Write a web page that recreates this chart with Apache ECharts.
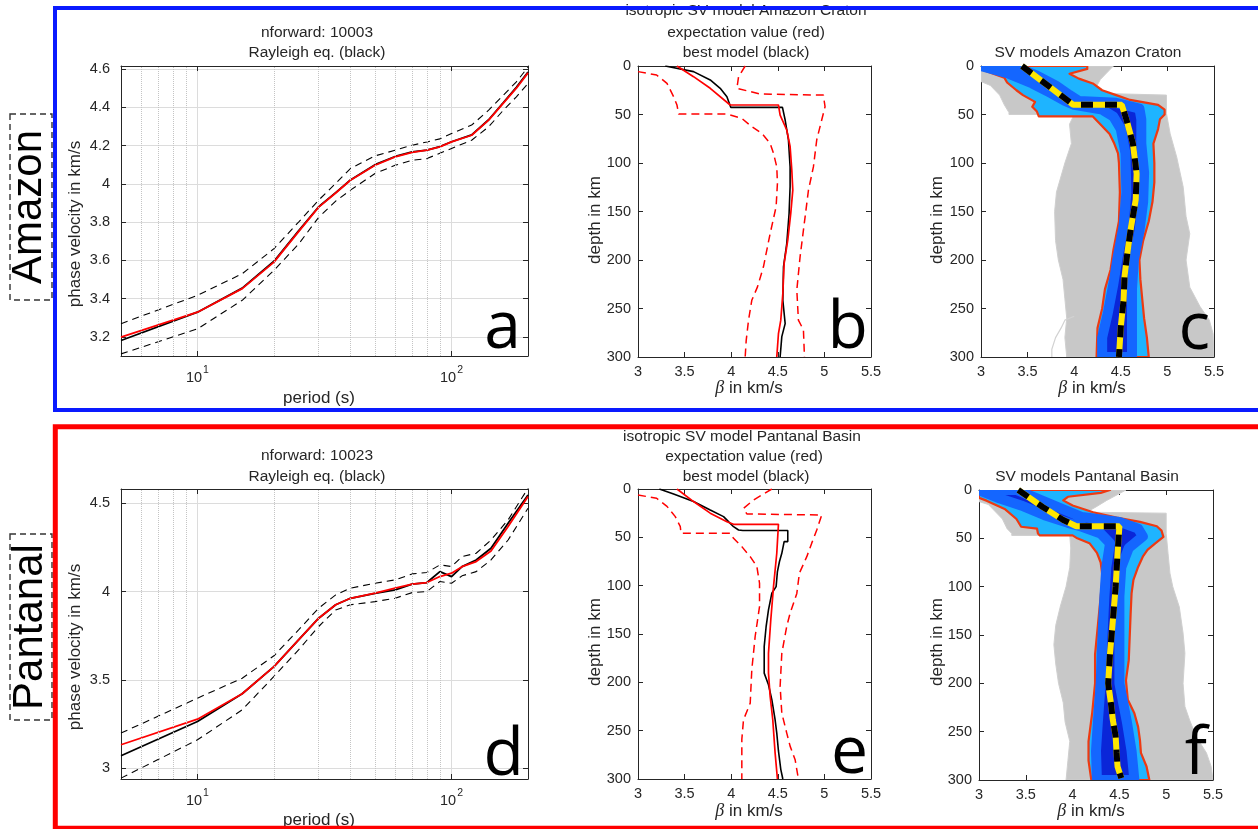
<!DOCTYPE html>
<html>
<head>
<meta charset="utf-8">
<title>SV models Amazon Craton / Pantanal Basin</title>
<script src="https://cdn.jsdelivr.net/npm/echarts@6/dist/echarts.min.js"></script>
<style>
  html, body { margin: 0; padding: 0; background: #fff; }
  #chart { width: 1258px; height: 829px; }
</style>
</head>
<body>
<div id="chart"></div>
<script>
// ---------- Rayleigh phase-velocity dispersion (period s, velocity km/s) ----------
const periodsA = [5, 10, 15, 20, 25, 30, 35, 40, 50, 60, 70, 80, 90, 100, 120, 140, 160, 180, 200];
const aExpect = [3.199, 3.329, 3.452, 3.591, 3.750, 3.878, 3.952, 4.019, 4.097, 4.141, 4.164, 4.176, 4.193, 4.219, 4.254, 4.333, 4.422, 4.500, 4.580];
const aBest   = [3.181, 3.329, 3.455, 3.595, 3.754, 3.880, 3.954, 4.020, 4.100, 4.143, 4.167, 4.176, 4.195, 4.220, 4.256, 4.335, 4.425, 4.505, 4.585];
const aUpper  = [3.269, 3.417, 3.530, 3.661, 3.800, 3.915, 4.002, 4.080, 4.146, 4.176, 4.202, 4.219, 4.235, 4.263, 4.307, 4.385, 4.464, 4.533, 4.610];
const aLower  = [3.111, 3.242, 3.391, 3.548, 3.685, 3.825, 3.910, 3.967, 4.054, 4.097, 4.123, 4.132, 4.160, 4.185, 4.228, 4.298, 4.385, 4.455, 4.525];

const periodsD = [5, 10, 15, 20, 25, 30, 35, 40, 50, 60, 70, 80, 90, 100, 110, 125, 143, 167, 200];
const dExpect = [3.132, 3.277, 3.421, 3.575, 3.726, 3.849, 3.925, 3.962, 3.991, 4.019, 4.042, 4.051, 4.085, 4.104, 4.141, 4.170, 4.230, 4.368, 4.538];
const dBest   = [3.070, 3.264, 3.421, 3.575, 3.726, 3.849, 3.925, 3.962, 3.990, 4.009, 4.042, 4.051, 4.113, 4.085, 4.141, 4.179, 4.245, 4.387, 4.547];
const dUpper  = [3.198, 3.396, 3.509, 3.636, 3.783, 3.906, 3.981, 4.019, 4.047, 4.066, 4.100, 4.108, 4.151, 4.142, 4.198, 4.217, 4.292, 4.406, 4.585];
const dLower  = [2.943, 3.160, 3.330, 3.519, 3.670, 3.802, 3.896, 3.925, 3.943, 3.962, 3.994, 4.000, 4.057, 4.047, 4.089, 4.113, 4.179, 4.292, 4.472];

const minorPeriods = [6, 7, 8, 9, 20, 30, 40, 50, 60, 70, 80, 90];
const aVelTicks = [3.2, 3.4, 3.6, 3.8, 4.0, 4.2, 4.4, 4.6];
const dVelTicks = [3.0, 3.5, 4.0, 4.5];
const betaTicks = [3, 3.5, 4, 4.5, 5, 5.5];
const depthTicks = [0, 50, 100, 150, 200, 250, 300];

// ---------- Amazon Craton shear-velocity profiles [beta km/s, depth km] ----------
const bBest = [[3.293,0],[3.596,5.8],[3.775,14.4],[3.882,23],[3.954,31.7],[3.996,42.7],[4.55,42.7],[4.579,55.7],[4.614,76],[4.632,104],[4.632,124.5],[4.621,152],[4.596,183],[4.561,207],[4.554,241.5],[4.579,265.6],[4.543,279],[4.525,300]];
const bMean = [[3.418,0],[3.596,11],[3.775,23],[3.989,40.2],[4.507,40.2],[4.525,50.6],[4.596,66],[4.632,83],[4.65,107],[4.661,128],[4.639,152],[4.607,179.6],[4.568,203.6],[4.554,234.6],[4.532,262],[4.507,276],[4.489,300]];
const bLow  = [[3.0,5.8],[3.2,9.3],[3.311,17.9],[3.382,31.6],[3.418,40.2],[3.436,49.5],[3.954,49.5],[4.114,54],[4.221,62.6],[4.329,69.5],[4.418,79.8],[4.454,90],[4.489,104],[4.496,121],[4.482,145],[4.418,172.7],[4.346,207],[4.282,227.7],[4.221,241.5],[4.186,262],[4.161,282.8],[4.15,300]];
const bUp   = [[4.15,0],[4.079,11],[4.061,23],[4.311,28.9],[4.989,30],[5.007,42],[4.971,55.7],[4.918,76],[4.882,104],[4.829,128],[4.793,155.5],[4.739,196.8],[4.704,231],[4.721,262],[4.775,272],[4.786,300]];

const cGrayLeft  = [[3.0,0],[3.0,16],[3.1,20],[3.2,30],[3.25,40],[3.3,48],[3.3,50],[4.0,50],[3.95,60],[3.97,80],[3.9,100],[3.81,130],[3.79,150],[3.8,180],[3.83,200],[3.88,220],[3.9,240],[3.92,260],[3.9,280],[3.92,300]];
const cGrayRight = [[4.42,0],[4.28,14],[4.2,28],[4.99,30],[4.99,49],[5.03,70],[5.1,94],[5.17,125],[5.2,155],[5.24,173],[5.2,200],[5.24,228],[5.35,248],[5.45,262],[5.49,276],[5.5,300]];
const cOutline   = [[4.0,258],[3.9,262],[3.86,270],[3.8,280],[3.76,292],[3.76,300]];
const cBandLeft  = [[3.0,0],[3.05,5],[3.25,12],[3.28,17],[3.38,25],[3.45,30],[3.58,37],[3.55,42],[3.6,47],[3.62,52],[4.2,52],[4.28,60],[4.38,70],[4.43,80],[4.47,90],[4.48,100],[4.49,130],[4.48,160],[4.42,190],[4.39,210],[4.33,230],[4.3,250],[4.25,270],[4.24,300]];
const cBandRight = [[4.14,0],[4.14,3],[3.95,8],[4.05,13],[4.2,18],[4.3,25],[4.45,30],[4.6,35],[4.9,40],[4.97,45],[4.97,50],[4.92,55],[4.9,65],[4.85,80],[4.86,100],[4.86,120],[4.84,140],[4.8,160],[4.74,180],[4.7,200],[4.71,220],[4.73,240],[4.75,260],[4.78,280],[4.8,300]];
const cCoreLeft  = [[3.0,0],[3.3,8],[3.55,18],[3.75,28],[3.9,36],[4.0,40],[4.3,45],[4.42,52],[4.5,65],[4.55,90],[4.56,130],[4.53,165],[4.47,195],[4.42,225],[4.36,255],[4.3,280],[4.3,300]];
const cCoreRight = [[3.35,0],[3.6,10],[3.8,20],[3.95,30],[4.05,36],[4.45,38],[4.7,44],[4.72,55],[4.72,80],[4.75,110],[4.74,140],[4.7,170],[4.64,200],[4.62,230],[4.62,260],[4.62,300]];
const cMean = [[3.44,0],[3.99,40],[4.51,40],[4.56,55],[4.63,80],[4.67,111],[4.66,138],[4.61,166],[4.57,193],[4.54,217],[4.53,241],[4.5,269],[4.48,300]];

// ---------- Pantanal Basin shear-velocity profiles ----------
const eBest = [[3.229,0],[3.382,5.2],[3.596,13],[3.775,21.7],[3.918,28.6],[3.971,33.8],[4.025,39],[4.079,42.4],[4.125,43],[4.607,43],[4.607,54.4],[4.568,54.4],[4.543,66.5],[4.518,75],[4.496,85.4],[4.482,101],[4.436,107.8],[4.4,125],[4.375,142],[4.354,163],[4.354,190.5],[4.4,202.5],[4.436,218],[4.471,238.7],[4.489,252.5],[4.507,271],[4.532,290],[4.554,300]];
const eMean = [[3.418,0],[3.596,13],[3.775,25],[3.954,33.8],[4.025,36.5],[4.507,36.5],[4.489,66.5],[4.454,101],[4.425,135],[4.4,170],[4.4,190.5],[4.418,214.6],[4.446,238.7],[4.471,273],[4.496,300]];
const eLow  = [[3.0,6.2],[3.2,9.6],[3.311,18],[3.4,28.6],[3.454,39],[3.461,45.8],[3.989,45.8],[4.025,51],[4.114,59.6],[4.204,70],[4.275,80],[4.304,97.5],[4.304,121.6],[4.257,152.6],[4.221,187],[4.204,221.5],[4.132,238.7],[4.114,259],[4.114,300]];
const eUp   = [[4.436,0],[4.239,11.4],[4.132,20],[4.168,25.8],[4.971,26.9],[4.918,42.4],[4.864,56],[4.811,70],[4.732,87],[4.704,108],[4.632,128.5],[4.596,142],[4.543,170],[4.525,204],[4.543,232],[4.596,252.5],[4.632,266],[4.686,280],[4.721,300]];

const fGrayLeft  = [[3.0,0],[3.0,12],[3.1,15],[3.15,20],[3.25,30],[3.3,40],[3.35,45],[3.35,47],[3.97,47],[3.98,60],[3.97,80],[3.93,100],[3.87,120],[3.82,140],[3.8,160],[3.82,180],[3.85,200],[3.9,220],[3.92,240],[3.97,260],[3.95,280],[3.93,300]];
const fGrayRight = [[4.57,0],[4.36,11],[4.25,17.5],[4.15,23],[5.0,24],[5.0,45],[5.02,66],[5.04,86],[5.07,100],[5.14,121],[5.18,148],[5.2,169],[5.18,200],[5.2,224],[5.25,238],[5.32,255],[5.43,272],[5.48,286],[5.5,300]];
const fBandLeft  = [[3.0,0],[3.0,8],[3.08,11],[3.28,20],[3.4,30],[3.45,38],[3.62,40],[3.63,45],[3.65,47],[4.0,47],[4.05,50],[4.18,55],[4.26,65],[4.3,75],[4.32,90],[4.3,110],[4.27,140],[4.24,170],[4.24,200],[4.21,230],[4.17,260],[4.17,280],[4.2,300]];
const fBandRight = [[4.4,0],[4.3,3],[3.95,7],[3.9,10.7],[4.0,16],[4.22,23],[4.47,28.6],[4.72,33],[4.9,37.5],[4.95,42],[4.97,48.5],[4.88,55.4],[4.8,62],[4.75,69],[4.7,79.6],[4.65,93],[4.63,107],[4.62,128],[4.61,152],[4.6,176],[4.57,197],[4.59,217],[4.66,231],[4.7,245],[4.72,259],[4.73,272],[4.79,286],[4.82,300]];
const fCoreLeft  = [[3.0,0],[3.2,8],[3.45,16],[3.7,26],[3.95,34],[4.1,38],[4.3,45],[4.4,55],[4.36,80],[4.34,110],[4.32,150],[4.3,200],[4.27,240],[4.25,270],[4.26,300]];
const fCoreRight = [[3.4,0],[3.65,10],[3.9,20],[4.1,28],[4.5,33],[4.7,40],[4.75,48],[4.6,60],[4.52,80],[4.5,110],[4.5,160],[4.5,200],[4.58,240],[4.63,270],[4.66,300]];
const fMean = [[3.42,0],[3.68,17.5],[3.9,31],[4.04,37.5],[4.5,37.5],[4.48,66],[4.46,100],[4.43,135],[4.4,169],[4.38,200],[4.41,221],[4.43,238],[4.46,255],[4.47,272],[4.48,286],[4.52,298]];

// ---------- drawing ----------
const FONT = '"Liberation Sans", Arial, sans-serif';
const INK = '#262626';

const grids = [
  { left: 121, top: 66,  width: 407, height: 290 },  // a
  { left: 638, top: 66,  width: 233, height: 291 },  // b
  { left: 981, top: 66,  width: 233, height: 291 },  // c
  { left: 121, top: 489, width: 407, height: 290 },  // d
  { left: 638, top: 489, width: 233, height: 290 },  // e
  { left: 979, top: 490, width: 234, height: 290 }   // f
];

function axis(gi, pos, o) {
  const main = pos === 'bottom' || pos === 'left';
  const ax = {
    type: o.type || 'value', gridIndex: gi, position: pos,
    min: o.min, max: o.max, inverse: !!o.inverse,
    axisLine: { show: true, onZero: false, lineStyle: { color: INK, width: 1 } },
    axisTick: { show: true, inside: true, length: 5, lineStyle: { color: INK, width: 1 } },
    axisLabel: {
      show: main, margin: o.margin, color: INK, fontSize: 14.5, fontFamily: FONT,
      formatter: o.formatter, rich: o.rich
    },
    splitLine: { show: main && !!o.grid, lineStyle: { color: '#dcdcdc', width: 1 } },
    minorTick: { show: false }, minorSplitLine: { show: false }
  };
  if (o.type === 'log') ax.logBase = 10;
  if (o.ticks) {
    ax.axisTick.customValues = o.ticks;
    if (main) ax.axisLabel.customValues = o.ticks;
  }
  return ax;
}

const fmt1 = v => String(Math.round(v * 10) / 10);
const logFmt = v => {
  const e = Math.log10(v);
  if (Math.abs(e - Math.round(e)) < 1e-6 && v > 9 && v < 101) return '{b|10}{s|' + Math.round(e) + '}';
  return '';
};
const logRich = {
  b: { fontSize: 14.5, fontFamily: FONT, color: INK, lineHeight: 20, verticalAlign: 'bottom' },
  s: { fontSize: 10.5, fontFamily: FONT, color: INK, lineHeight: 20, verticalAlign: 'top', padding: [0, 0, 0, 1] }
};

const xSpecs = [
  { type: 'log', min: 5, max: 200, grid: true, formatter: logFmt, rich: logRich, margin: 9 },
  { min: 3, max: 5.5, ticks: betaTicks, formatter: fmt1, margin: 7 },
  { min: 3, max: 5.5, ticks: betaTicks, formatter: fmt1, margin: 7 },
  { type: 'log', min: 5, max: 200, grid: true, formatter: logFmt, rich: logRich, margin: 9 },
  { min: 3, max: 5.5, ticks: betaTicks, formatter: fmt1, margin: 7 },
  { min: 3, max: 5.5, ticks: betaTicks, formatter: fmt1, margin: 7 }
];
const ySpecs = [
  { min: 3.1, max: 4.616, ticks: aVelTicks, grid: true, formatter: fmt1, margin: 11 },
  { min: 0, max: 300, ticks: depthTicks, inverse: true, margin: 7 },
  { min: 0, max: 300, ticks: depthTicks, inverse: true, margin: 7 },
  { min: 2.938, max: 4.581, ticks: dVelTicks, grid: true, formatter: fmt1, margin: 11 },
  { min: 0, max: 300, ticks: depthTicks, inverse: true, margin: 7 },
  { min: 0, max: 300, ticks: depthTicks, inverse: true, margin: 7 }
];

const xAxes = [], yAxes = [];
grids.forEach((g, i) => {
  xAxes.push(axis(i, 'bottom', xSpecs[i]), axis(i, 'top', xSpecs[i]));
  yAxes.push(axis(i, 'left', ySpecs[i]), axis(i, 'right', ySpecs[i]));
});

function line(gi, data, color, width, dash, z) {
  return {
    type: 'line', xAxisIndex: 2 * gi, yAxisIndex: 2 * gi, data: data,
    showSymbol: false, symbol: 'none', silent: true, clip: true, z: z || 3,
    lineStyle: { color: color, width: width, type: dash || 'solid' }
  };
}
const pairs = (xs, ys) => xs.map((x, i) => [x, ys[i]]);
const band = (left, right) => left.concat(right.slice().reverse());

function polygon(gi, pts, style, z) {
  return {
    type: 'custom', xAxisIndex: 2 * gi, yAxisIndex: 2 * gi, clip: true, silent: true, z: z,
    data: [pts[0]],
    renderItem: (params, api) => ({
      type: 'polygon',
      shape: { points: pts.map(p => api.coord(p)) },
      style: Object.assign({}, style)
    })
  };
}

const dashBlack = [7, 5];
const dashRed = [8, 5];

const series = [];
// a: dispersion, Amazon
const minorGrid = {
  silent: true, symbol: 'none', label: { show: false },
  lineStyle: { type: 'dotted', color: '#c4c4c4', width: 1 },
  data: minorPeriods.map(v => ({ xAxis: v }))
};
series.push(Object.assign(line(0, pairs(periodsA, aUpper), '#000', 1.1, dashBlack), { markLine: minorGrid }));
series.push(line(0, pairs(periodsA, aLower), '#000', 1.1, dashBlack));
series.push(line(0, pairs(periodsA, aBest), '#000', 1.8));
series.push(line(0, pairs(periodsA, aExpect), '#f00', 1.8, null, 4));
// d: dispersion, Pantanal
series.push(Object.assign(line(3, pairs(periodsD, dUpper), '#000', 1.1, dashBlack), { markLine: minorGrid }));
series.push(line(3, pairs(periodsD, dLower), '#000', 1.1, dashBlack));
series.push(line(3, pairs(periodsD, dBest), '#000', 1.8));
series.push(line(3, pairs(periodsD, dExpect), '#f00', 1.8, null, 4));
// b, e: model profiles
[[1, bBest, bMean, bLow, bUp], [4, eBest, eMean, eLow, eUp]].forEach(([gi, best, mean, lo, up]) => {
  series.push(line(gi, lo, '#f00', 1.5, dashRed));
  series.push(line(gi, up, '#f00', 1.5, dashRed));
  series.push(line(gi, best, '#000', 1.6));
  series.push(line(gi, mean, '#f00', 1.7, null, 4));
});
// c, f: model ensembles (grey: all models, colour: accepted-model density)
[[2, cGrayLeft, cGrayRight, cBandLeft, cBandRight, cCoreLeft, cCoreRight, cMean],
 [5, fGrayLeft, fGrayRight, fBandLeft, fBandRight, fCoreLeft, fCoreRight, fMean]]
.forEach(([gi, gl, gr, bl, br, kl, kr, mean]) => {
  series.push(polygon(gi, band(gl, gr), { fill: '#c8c8c8', stroke: '#cfcfcf', lineWidth: 1 }, 1));
  series.push(polygon(gi, band(bl, br), { fill: '#1eb4ff', stroke: '#ee3a12', lineWidth: 2.2, lineJoin: 'round' }, 2));
  series.push(polygon(gi, band(kl, kr), { fill: '#0a26d8', stroke: '#1466ff', lineWidth: 10, lineJoin: 'round' }, 3));
  series.push(line(gi, mean, '#ffe600', 6, null, 5));
  series.push(line(gi, mean, '#000', 6, [12, 12], 6));
});
series.push(line(2, cOutline, '#d2d2d2', 1.2, null, 1));

// ---------- text and frames ----------
function txt(x, y, text, size, extra) {
  return Object.assign({
    type: 'text', x: x, y: y, silent: true, z: 50,
    style: Object.assign({
      text: text, fontSize: size, fontFamily: FONT, fill: INK,
      align: 'center', verticalAlign: 'middle', textAlign: 'center', textVerticalAlign: 'middle'
    }, (extra && extra.style) || {})
  }, extra && extra.rotation ? { rotation: extra.rotation } : {});
}
const TS = 15.5;   // title size
const AS = 17;     // axis name size
const betaRich = { i: { fontStyle: 'italic', fontFamily: '"Liberation Serif", serif', fontSize: 18, fill: INK } };
const betaLabel = (x, y) => ({
  type: 'text', x: x, y: y, silent: true, z: 50,
  style: { text: '{i|β} in km/s', rich: betaRich, fontSize: AS, fontFamily: FONT, fill: INK,
           align: 'center', verticalAlign: 'middle', textAlign: 'center', textVerticalAlign: 'middle' }
});
const up = { rotation: Math.PI / 2 };
const letter = (x, y, ch) => ({
  type: 'text', x: x, y: y, silent: true, z: 60,
  style: { text: ch, fontSize: 66, fontFamily: '"Open Sans", sans-serif', fill: '#000',
           align: 'right', verticalAlign: 'middle', textAlign: 'right', textVerticalAlign: 'middle' }
});

const graphics = [
  // titles
  txt(317, 33, 'nforward: 10003', TS), txt(317, 53, 'Rayleigh eq. (black)', TS),
  txt(746, 11, 'isotropic SV model Amazon Craton', TS), txt(746, 33, 'expectation value (red)', TS), txt(746, 53, 'best model (black)', TS),
  txt(1088, 53, 'SV models Amazon Craton', TS),
  txt(317, 456, 'nforward: 10023', TS), txt(317, 477, 'Rayleigh eq. (black)', TS),
  txt(742, 437, 'isotropic SV model Pantanal Basin', TS), txt(744, 457, 'expectation value (red)', TS), txt(746, 477, 'best model (black)', TS),
  txt(1087, 477, 'SV models Pantanal Basin', TS),
  // axis names
  txt(75, 224, 'phase velocity in km/s', AS, up), txt(319, 398, 'period (s)', AS),
  txt(75, 647, 'phase velocity in km/s', AS, up), txt(319, 820, 'period (s)', AS),
  txt(595, 220, 'depth in km', AS, up), txt(937, 220, 'depth in km', AS, up),
  txt(595, 642, 'depth in km', AS, up), txt(937, 642, 'depth in km', AS, up),
  betaLabel(749, 388), betaLabel(1092, 388), betaLabel(749, 811), betaLabel(1091, 811),
  // panel letters
  letter(521, 329, 'a'), letter(868, 329, 'b'), letter(1210, 330, 'c'),
  letter(524, 756, 'd'), letter(868, 754, 'e'), letter(1207, 755, 'f'),
  // region names with dashed boxes
  { type: 'rect', z: 40, silent: true, shape: { x: 10, y: 114, width: 42, height: 186 },
    style: { fill: 'none', stroke: '#333', lineWidth: 1.4, lineDash: [6, 4] } },
  { type: 'rect', z: 40, silent: true, shape: { x: 10, y: 534, width: 42, height: 186 },
    style: { fill: 'none', stroke: '#333', lineWidth: 1.4, lineDash: [6, 4] } },
  { type: 'text', x: 29, y: 207, rotation: Math.PI / 2, z: 60, silent: true,
    style: { text: 'Amazon', fontSize: 42, fontFamily: FONT, fill: '#000',
             align: 'center', verticalAlign: 'middle', textAlign: 'center', textVerticalAlign: 'middle' } },
  { type: 'text', x: 30, y: 627, rotation: Math.PI / 2, z: 60, silent: true,
    style: { text: 'Pantanal', fontSize: 42, fontFamily: FONT, fill: '#000',
             align: 'center', verticalAlign: 'middle', textAlign: 'center', textVerticalAlign: 'middle' } },
  // region frames
  { type: 'rect', z: 100, silent: true, shape: { x: 55, y: 8, width: 1215, height: 402 },
    style: { fill: 'none', stroke: '#0a1aff', lineWidth: 4 } },
  { type: 'rect', z: 100, silent: true, shape: { x: 55.3, y: 426.7, width: 1215, height: 401.5 },
    style: { fill: 'none', stroke: '#ff0000', lineWidth: 5 } }
];

const chart = echarts.init(document.getElementById('chart'));
chart.setOption({
  animation: false,
  backgroundColor: '#ffffff',
  grid: grids.map(g => Object.assign({ containLabel: false, show: false }, g)),
  xAxis: xAxes,
  yAxis: yAxes,
  series: series,
  graphic: { elements: graphics }
});
</script>
</body>
</html>
